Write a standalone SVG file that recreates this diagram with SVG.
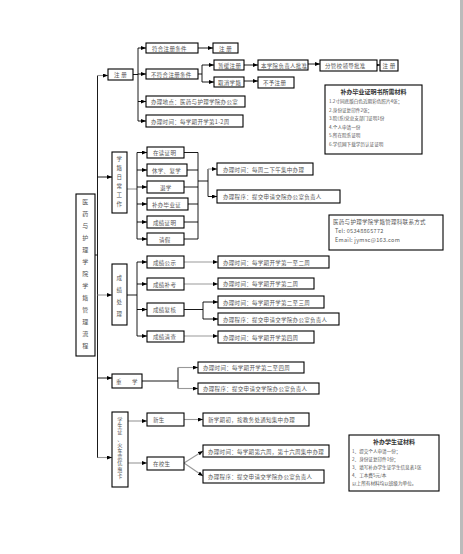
<svg xmlns="http://www.w3.org/2000/svg" width="463" height="554" viewBox="0 0 463 554">
<style>
.b{fill:#fff;stroke:#000;stroke-width:1.1}
.t{font-family:"Noto Sans CJK SC","Noto Sans",sans-serif;font-size:5.5px;fill:#555;letter-spacing:0.3px}
.n{font-family:"Noto Sans CJK SC","Noto Sans",sans-serif;font-size:4.6px;fill:#555}
.h{font-family:"Noto Sans CJK SC","Noto Sans",sans-serif;font-size:6px;font-weight:bold;fill:#333}
.c{fill:none;stroke:#000;stroke-width:0.9}
.g{fill:none;stroke:#999;stroke-width:1.1}
.ca{marker-end:url(#ah)}
.ga{marker-end:url(#gh)}
</style>
<defs>
<marker id="ah" markerUnits="userSpaceOnUse" markerWidth="5" markerHeight="4" refX="5" refY="2" orient="auto"><path d="M0,0 L5,2 L0,4 z" fill="#000"/></marker>
<marker id="gh" markerUnits="userSpaceOnUse" markerWidth="5" markerHeight="4" refX="5" refY="2" orient="auto"><path d="M0,0 L5,2 L0,4 z" fill="#000"/></marker>
</defs>
<rect width="463" height="554" fill="#fff"/>
<rect x="460" y="0" width="3" height="554" fill="#bbb"/>

<g id="connectors">
<path class="c" d="M97.5,75.5 V458 M95,255 H97.5"/>
<path class="g ga" d="M97.5,75.5 H108"/>
<path class="c ca" d="M97.5,177 H112"/>
<path class="g ga" d="M97.5,295 H112"/>
<path class="c ca" d="M97.5,378 H112"/>
<path class="g ga" d="M97.5,457.5 H112"/>
<path class="c" d="M133,74.5 H138 M138,48 V121"/>
<path class="c ca" d="M138,48 H146"/>
<path class="c ca" d="M138,74 H146"/>
<path class="c ca" d="M138,101.5 H146"/>
<path class="c ca" d="M138,121 H146"/>
<path class="c ca" d="M198,48 H213"/>
<path class="c" d="M198,74 H202 M202,65 V82"/>
<path class="c ca" d="M202,65 H214"/>
<path class="c ca" d="M202,82 H214"/>
<path class="c ca" d="M244,65 H258"/>
<path class="c ca" d="M308,64 H320"/>
<path class="c ca" d="M377,65 H380"/>
<path class="c ca" d="M244,81 H258"/>
<path class="g" d="M127,189 H137"/>
<path class="c" d="M137,152.5 V239"/>
<path class="c ca" d="M137,152.5 H147"/>
<path class="c ca" d="M137,170 H147"/>
<path class="c ca" d="M137,187 H147"/>
<path class="c ca" d="M137,204 H147"/>
<path class="c ca" d="M137,222 H147"/>
<path class="c ca" d="M137,239 H147"/>
<path class="c" d="M184,152.5 H198 M187,170 H198 M184,187 H198 M188,204 H198 M184,222 H198 M184,239 H198 M198,152.5 V239 M198,181 H208 M208,169 V196.5"/>
<path class="g ga" d="M208,169 H217"/>
<path class="c ca" d="M208,196.5 H217"/>
<path class="c" d="M127,295 H137 M137,262 V336"/>
<path class="c ca" d="M137,262 H147"/>
<path class="c ca" d="M137,284 H147"/>
<path class="c ca" d="M137,309.5 H147"/>
<path class="c ca" d="M137,336 H147"/>
<path class="g ga" d="M184,262 H218"/>
<path class="g ga" d="M184,284 H218"/>
<path class="c" d="M184,309.5 H203 M203,302 V319"/>
<path class="c ca" d="M203,302 H218"/>
<path class="c ca" d="M203,319 H218"/>
<path class="g ga" d="M184,336 H218"/>
<path class="c" d="M142,381 H178 M178,367.5 V388.5"/>
<path class="g ga" d="M178,367.5 H198"/>
<path class="g ga" d="M178,388.5 H198"/>
<path class="g ga" d="M128,421 H147"/>
<path class="g ga" d="M184,419.5 H203"/>
<path class="g ga" d="M128,463 H147"/>
<path class="g ga" d="M184,463 L203,451"/>
<path class="g ga" d="M184,463 L203,476"/>
</g>

<g id="main"><rect class="b" x="76" y="194" width="19" height="162"/>
<text class="t" style="font-size:6px" text-anchor="middle"><tspan x="85.5" y="204">医</tspan><tspan x="85.5" y="216">药</tspan><tspan x="85.5" y="228">与</tspan><tspan x="85.5" y="240">护</tspan><tspan x="85.5" y="252">理</tspan><tspan x="85.5" y="264">学</tspan><tspan x="85.5" y="276">院</tspan><tspan x="85.5" y="288">学</tspan><tspan x="85.5" y="300">籍</tspan><tspan x="85.5" y="312">管</tspan><tspan x="85.5" y="324">理</tspan><tspan x="85.5" y="336">流</tspan><tspan x="85.5" y="348">程</tspan></text></g>

<g id="zhuce"><rect class="b" x="108" y="69" width="25" height="11"/><text class="t" x="120.5" y="77" text-anchor="middle">注 册</text></g>
<g id="fuhe"><rect class="b" x="146" y="43" width="52" height="10"/><text class="t" x="152" y="50.5">符合注册条件</text></g>
<g id="zhuce2"><rect class="b" x="213" y="43" width="25" height="10"/><text class="t" x="225.5" y="50.5" text-anchor="middle">注 册</text></g>
<g id="bufuhe"><rect class="b" x="146" y="69" width="52" height="10"/><text class="t" x="151" y="76.5">不符合注册条件</text></g>
<g id="zanhuan"><rect class="b" x="214" y="60" width="30" height="10"/><text class="t" x="218" y="67.5">暂缓注册</text></g>
<g id="quxiao"><rect class="b" x="214" y="77" width="30" height="10"/><text class="t" x="218" y="84.5">取消学籍</text></g>
<g id="benxueyuan"><rect class="b" x="258" y="60" width="50" height="10"/><text class="t" x="261" y="67.5">本学院负责人批准</text></g>
<g id="fenguan"><rect class="b" x="320" y="60" width="57" height="11"/><text class="t" x="325" y="68">分管校领导批准</text></g>
<g id="zhuce3"><rect class="b" x="380" y="60" width="18" height="11"/><text class="t" x="389" y="68" text-anchor="middle">注 册</text></g>
<g id="buyu"><rect class="b" x="258" y="77" width="36" height="11"/><text class="t" x="263" y="85">不予注册</text></g>
<g id="didian"><rect class="b" x="146" y="96" width="99" height="11"/><text class="t" x="151" y="104">办理地点：医药与护理学院办公室</text></g>
<g id="shijian1"><rect class="b" x="146" y="115" width="97" height="12"/><text class="t" x="151" y="123.5">办理时间：每学期开学第1-2周</text></g>

<g id="note1"><rect class="b" x="325" y="85" width="97" height="69"/>
<text class="h" x="373.5" y="94" text-anchor="middle">补办毕业证明书所需材料</text>
<text class="n" x="329" y="103">1.2寸同底版白色近期彩色照片4张；</text>
<text class="n" x="329" y="111.5">2.身份证复印件2张；</text>
<text class="n" x="329" y="120">3.院(系)党总支部门证明1份</text>
<text class="n" x="329" y="128.5">4.个人申请一份</text>
<text class="n" x="329" y="137">5.所在院系证明</text>
<text class="n" x="329" y="145.5">6.学信网下载学历认证证明</text></g>

<g id="xueji"><rect class="b" x="112" y="152" width="15" height="61"/>
<text class="t" text-anchor="middle"><tspan x="119.5" y="161">学</tspan><tspan x="119.5" y="170">籍</tspan><tspan x="119.5" y="179">日</tspan><tspan x="119.5" y="188">常</tspan><tspan x="119.5" y="197">工</tspan><tspan x="119.5" y="206">作</tspan></text></g>
<g id="zaidu"><rect class="b" x="147" y="147" width="37" height="11"/><text class="t" x="153" y="155">在读证明</text></g>
<g id="xiuxue"><rect class="b" x="147" y="164" width="40" height="12"/><text class="t" x="152" y="172.5">休学、复学</text></g>
<g id="tuixue"><rect class="b" x="147" y="181" width="37" height="12"/><text class="t" x="160" y="189.5">退学</text></g>
<g id="bubanbiye"><rect class="b" x="147" y="198" width="41" height="12"/><text class="t" x="152" y="206.5">补办毕业证</text></g>
<g id="chengjizm"><rect class="b" x="147" y="216" width="37" height="12"/><text class="t" x="153" y="224.5">成绩证明</text></g>
<g id="qingjia"><rect class="b" x="147" y="233" width="37" height="12"/><text class="t" x="159" y="241.5">请假</text></g>
<g id="xj_shijian"><rect class="b" x="217" y="163" width="96" height="12"/><text class="t" x="223" y="171.5">办理时间：每周二下午集中办理</text></g>
<g id="xj_chengxu"><rect class="b" x="217" y="190" width="123" height="13"/><text class="t" x="223" y="199">办理程序：提交申请交院办公室负责人</text></g>

<g id="contact"><rect class="b" x="329" y="215" width="114" height="35"/>
<text class="t" x="333" y="224">医药与护理学院学籍管理科联系方式</text>
<text class="t" x="335" y="233">Tel:   05348865772</text>
<text class="t" x="335" y="242">Email: jymsc@163.com</text></g>

<g id="chengji"><rect class="b" x="112" y="264" width="15" height="61"/>
<text class="t" text-anchor="middle"><tspan x="119.5" y="280">成</tspan><tspan x="119.5" y="292">绩</tspan><tspan x="119.5" y="304">处</tspan><tspan x="119.5" y="316">理</tspan></text></g>
<g id="gongshi"><rect class="b" x="147" y="256" width="37" height="12"/><text class="t" x="153" y="264.5">成绩公示</text></g>
<g id="bukao"><rect class="b" x="147" y="278" width="37" height="12"/><text class="t" x="153" y="286.5">成绩补考</text></g>
<g id="fuhe2"><rect class="b" x="147" y="303" width="37" height="13"/><text class="t" x="153" y="312">成绩复核</text></g>
<g id="qingcha"><rect class="b" x="147" y="331" width="37" height="11"/><text class="t" x="153" y="339">成绩清查</text></g>
<g id="cj_sj1"><rect class="b" x="218" y="256" width="111" height="12"/><text class="t" x="223" y="264.5">办理时间：每学期开学第一至二周</text></g>
<g id="cj_sj2"><rect class="b" x="218" y="278" width="96" height="11"/><text class="t" x="223" y="286">办理时间：每学期开学第二周</text></g>
<g id="cj_sj3"><rect class="b" x="218" y="296" width="106" height="12"/><text class="t" x="223" y="304.5">办理时间：每学期开学第二至三周</text></g>
<g id="cj_cx"><rect class="b" x="218" y="313" width="121" height="12"/><text class="t" x="223" y="321.5">办理程序：提交申请交学院办公室负责人</text></g>
<g id="cj_sj4"><rect class="b" x="218" y="331" width="96" height="12"/><text class="t" x="223" y="339.5">办理时间：每学期开学第四周</text></g>

<g id="chongxue"><rect class="b" x="112" y="374" width="30" height="14"/><text class="t"><tspan x="116" y="383.5">重</tspan><tspan x="132" y="383.5">学</tspan></text></g>
<g id="cx_sj"><rect class="b" x="198" y="362" width="106" height="11"/><text class="t" x="203" y="370">办理时间：每学期开学第二至四周</text></g>
<g id="cx_cx"><rect class="b" x="198" y="383" width="121" height="11"/><text class="t" x="203" y="391">办理程序：提交申请交学院办公室负责人</text></g>

<g id="xueshengzheng"><rect class="b" x="112" y="412" width="16" height="75"/>
<text class="t" style="font-size:5.2px" text-anchor="middle"><tspan x="120" y="422">学</tspan><tspan x="120" y="428.2">生</tspan><tspan x="120" y="434.4">证</tspan><tspan x="120" y="440.6">、</tspan><tspan x="120" y="446.8">火</tspan><tspan x="120" y="453">车</tspan><tspan x="120" y="459.2">票</tspan><tspan x="120" y="465.4">优</tspan><tspan x="120" y="471.6">惠</tspan><tspan x="120" y="477.8">卡</tspan></text></g>
<g id="xinsheng"><rect class="b" x="147" y="413" width="37" height="13"/><text class="t" x="153" y="422">新生</text></g>
<g id="zaixiaosheng"><rect class="b" x="147" y="457" width="37" height="13"/><text class="t" x="153" y="466">在校生</text></g>
<g id="xs_bl"><rect class="b" x="203" y="413" width="106" height="13"/><text class="t" x="208" y="422">新学期初，按教务处通知集中办理</text></g>
<g id="zx_sj"><rect class="b" x="203" y="445" width="126" height="12"/><text class="t" x="208" y="453.5">办理时间：每学期第六周，第十六周集中办理</text></g>
<g id="zx_cx"><rect class="b" x="203" y="470" width="121" height="13"/><text class="t" x="208" y="479">办理程序：提交申请交学院办公室负责人</text></g>

<g id="note2"><rect class="b" x="349" y="435" width="90" height="56"/>
<text class="h" x="394" y="444" text-anchor="middle">补办学生证材料</text>
<text class="n" x="352" y="453">1、提交个人申请一份；</text>
<text class="n" x="352" y="461">2、身份证复印件1份；</text>
<text class="n" x="352" y="469">3、填写补办学生证学生信息表1张</text>
<text class="n" x="352" y="477">4、工本费5元/本</text>
<text class="n" x="352" y="485">以上所有材料均以班级为单位。</text></g>
</svg>
